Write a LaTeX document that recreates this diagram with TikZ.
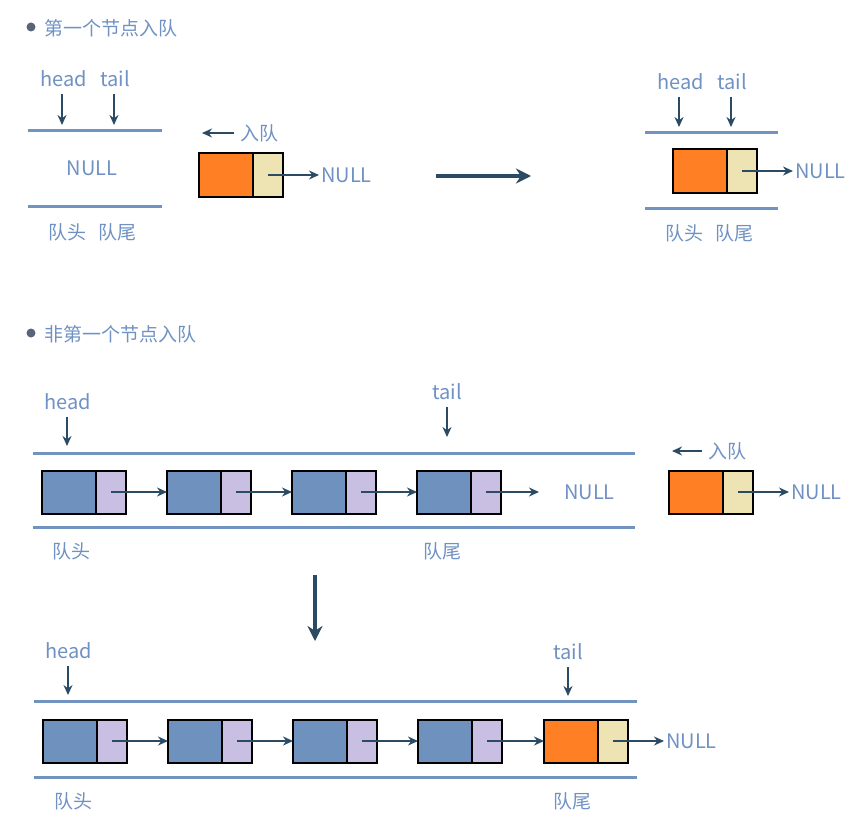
\documentclass[tikz,border=0pt]{standalone}
\usepackage{fontspec}
\setmainfont{Noto Sans CJK SC}
\usetikzlibrary{arrows.meta}
\definecolor{txt}{HTML}{6F91C3}
\definecolor{qln}{HTML}{7093C0}
\definecolor{arr}{HTML}{2B4A63}
\definecolor{bluef}{HTML}{6E91BE}
\definecolor{lavf}{HTML}{C8BFE3}
\definecolor{orgf}{HTML}{FF8024}
\definecolor{begf}{HTML}{EEE3B2}
\definecolor{bul}{HTML}{5A6478}
\newcommand\qnode[4]{%
  \node[#4data] (#1d) at (#2,#3) {};
  \node[#4ptr] (#1p) at (#1d.east) {};}
\begin{document}
\begin{tikzpicture}[x=1pt,y=-1pt,
  lbl/.style={text=txt, font=\fontsize{20}{22}\selectfont, inner sep=2pt},
  clbl/.style={text=txt, font=\fontsize{19}{21}\selectfont, inner sep=2pt},
  qline/.style={draw=qln, line width=3pt},
  darr/.style={draw=arr, line width=1.5pt, -{Stealth[length=10pt,width=9pt]}},
  vptr/.style={darr, shorten <=5pt},
  bigarr/.style={draw=arr, line width=4pt, -{Stealth[length=15pt,width=15pt]}},
  databox/.style={draw=black, line width=2pt, minimum width=54pt, minimum height=43pt, inner sep=0pt, outer sep=0pt, anchor=west},
  ptrbox/.style={draw=black, line width=2pt, minimum width=30pt, minimum height=43pt, inner sep=0pt, outer sep=0pt, anchor=west},
  bdata/.style={databox, fill=bluef}, odata/.style={databox, fill=orgf},
  bptr/.style={ptrbox, fill=lavf}, optr/.style={ptrbox, fill=begf},
  bullet/.style={circle, fill=bul, inner sep=0pt, minimum size=9pt}]
\useasboundingbox (0,0) rectangle (866,821);

% ---------- section 1 ----------
\node[bullet] (b1) at (31,27) {};
\node[clbl, anchor=west] (t1) at (42,28) {第一个节点入队};

% left queue
\draw[qline] (28,131) -- (162,131);
\draw[qline] (28,206) -- (162,206);
\node[lbl] (hA) at (64,79) {head};
\node[lbl] (tA) at (115,79) {tail};
\coordinate (hAe) at (62,125);
\coordinate (tAe) at (114,125);
\draw[vptr] (hA.south -| hAe) -- (hAe);
\draw[vptr] (tA.south -| tAe) -- (tAe);
\node[lbl] (nullA) at (92,168) {NULL};
\node[clbl] (qhA) at (67,232) {队头};
\node[clbl] (qtA) at (117,232) {队尾};

% new node
\qnode{a}{199}{175}{o}
\node[lbl, anchor=west] (nullAn) at (319,175) {NULL};
\draw[darr] (ap.center) -- (nullAn.west);
\node[clbl, anchor=west] (enqA) at (238,133) {入队};
\coordinate (enqAe) at (202,133);
\draw[darr, shorten <=4pt] (enqA.west) -- (enqAe);

% big arrow
\coordinate (bigAs) at (436,176);
\coordinate (bigAe) at (531,176);
\draw[bigarr] (bigAs) -- (bigAe);

% right queue
\draw[qline] (645,133) -- (778,133);
\draw[qline] (645,208) -- (778,208);
\node[lbl] (hB) at (681,82) {head};
\node[lbl] (tB) at (732,82) {tail};
\coordinate (hBe) at (679,127);
\coordinate (tBe) at (731,127);
\draw[vptr] (hB.south -| hBe) -- (hBe);
\draw[vptr] (tB.south -| tBe) -- (tBe);
\qnode{r}{673}{171}{o}
\node[lbl, anchor=west] (nullB) at (793,171) {NULL};
\draw[darr] (rp.center) -- (nullB.west);
\node[clbl] (qhB) at (684,233) {队头};
\node[clbl] (qtB) at (734,233) {队尾};

% ---------- section 2 ----------
\node[bullet] (b2) at (31,333) {};
\node[clbl, anchor=west] (t2) at (42,334) {非第一个节点入队};

\draw[qline] (33,453) -- (635,453);
\draw[qline] (33,527) -- (635,527);
\node[lbl] (hC) at (68,402) {head};
\node[lbl] (tC) at (447,392) {tail};
\coordinate (hCe) at (67,446);
\coordinate (tCe) at (447,437);
\draw[vptr] (hC.south -| hCe) -- (hCe);
\draw[vptr] (tC.south -| tCe) -- (tCe);
\qnode{c1}{42}{492}{b}
\qnode{c2}{167}{492}{b}
\qnode{c3}{292}{492}{b}
\qnode{c4}{417}{492}{b}
\draw[darr] (c1p.center) -- (c2d.west);
\draw[darr] (c2p.center) -- (c3d.west);
\draw[darr] (c3p.center) -- (c4d.west);
\coordinate (c4e) at (539,492);
\draw[darr] (c4p.center) -- (c4e);
\node[lbl, anchor=west] (nullC) at (562,492) {NULL};
\node[clbl] (qhC) at (71,551) {队头};
\node[clbl] (qtC) at (442,551) {队尾};

\node[clbl, anchor=west] (enqC) at (706,451) {入队};
\coordinate (enqCe) at (672,451);
\draw[darr, shorten <=4pt] (enqC.west) -- (enqCe);
\qnode{n}{669}{492}{o}
\node[lbl, anchor=west] (nullN) at (789,492) {NULL};
\draw[darr] (np.center) -- (nullN.west);

% big down arrow
\coordinate (bigBs) at (315,575);
\coordinate (bigBe) at (315,641);
\draw[bigarr] (bigBs) -- (bigBe);

% bottom queue
\draw[qline] (34,701) -- (637,701);
\draw[qline] (34,777) -- (637,777);
\node[lbl] (hD) at (69,651) {head};
\node[lbl] (tD) at (568,652) {tail};
\coordinate (hDe) at (68,695);
\coordinate (tDe) at (568,696);
\draw[vptr] (hD.south -| hDe) -- (hDe);
\draw[vptr] (tD.south -| tDe) -- (tDe);
\qnode{d1}{43}{741}{b}
\qnode{d2}{168}{741}{b}
\qnode{d3}{293}{741}{b}
\qnode{d4}{418}{741}{b}
\qnode{d5}{544}{741}{o}
\draw[darr] (d1p.center) -- (d2d.west);
\draw[darr] (d2p.center) -- (d3d.west);
\draw[darr] (d3p.center) -- (d4d.west);
\draw[darr] (d4p.center) -- (d5d.west);
\node[lbl, anchor=west] (nullD) at (664,741) {NULL};
\draw[darr] (d5p.center) -- (nullD.west);
\node[clbl] (qhD) at (73,801) {队头};
\node[clbl] (qtD) at (572,801) {队尾};
\end{tikzpicture}
\end{document}
